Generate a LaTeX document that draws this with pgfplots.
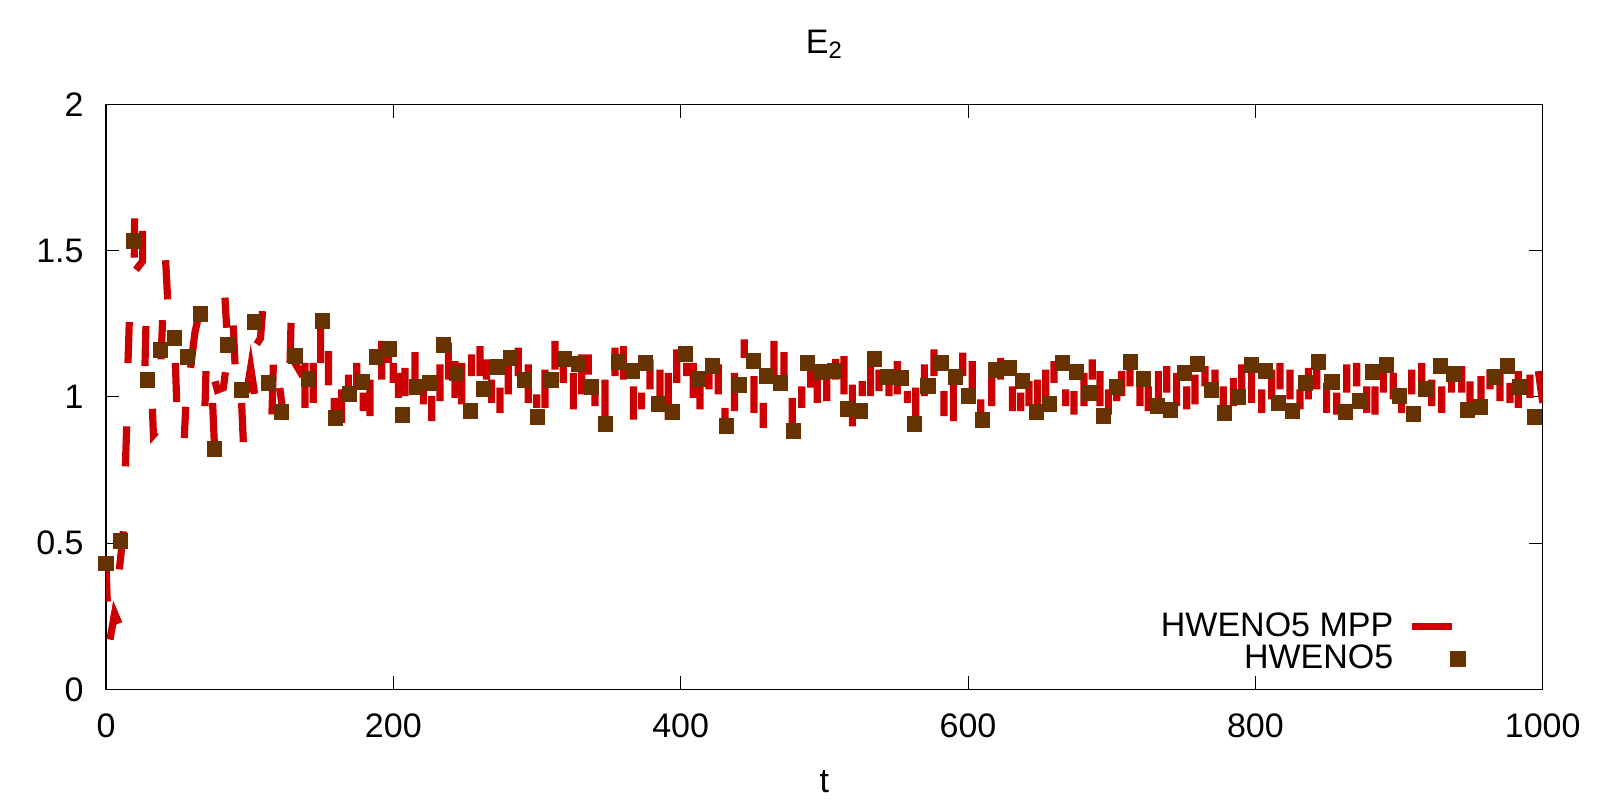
\documentclass[border=0pt]{standalone}
\usepackage{fontspec}
\setmainfont{Liberation Sans}
\usepackage{pgfplots}
\pgfplotsset{compat=1.18}
\definecolor{mpred}{RGB}{204,0,0}
\definecolor{mpbrown}{RGB}{102,51,0}
\begin{document}
\fontsize{17}{20}\selectfont
\begin{tikzpicture}
\begin{axis}[
  scale only axis, width=718.35pt, height=292.5pt,
  xmin=0, xmax=1000, ymin=0, ymax=2,
  xtick={0,200,400,600,800,1000}, ytick={0,0.5,1,1.5,2},
  tick align=inside, major tick length=6.65pt,
  every tick/.style={black, line width=0.5pt},
  axis line style={line width=0.6pt},
  /pgf/number format/assume math mode=true,
  /pgf/number format/1000 sep={},
  tick label style={font=\fontsize{17}{20}\selectfont},
  xticklabel style={anchor=base, yshift=-24pt, inner sep=0pt},
  yticklabel style={anchor=east, xshift=-11pt, inner sep=0pt},
  title={E\textsubscript{2}},
  title style={at={(0.5,1)}, anchor=base, yshift=19.3pt, inner sep=0pt, font=\fontsize{17}{20}\selectfont},
  xlabel={t},
  xlabel style={at={(0.5,0)}, anchor=base, yshift=-51.35pt, inner sep=0pt, font=\fontsize{17}{20}\selectfont},
  legend style={draw=none, fill=none, at={(0.9731,0.1316)}, anchor=north east,
    inner sep=0pt, outer sep=0pt, row sep=1.8pt, column sep=7.6pt,
    nodes={inner sep=0pt, font=\fontsize{17}{20}\selectfont}},
  legend cell align=right,
  legend plot pos=right,
]
\addplot[mpred, line width=3.6pt, line cap=butt, line join=miter, unbounded coords=jump,
  legend image code/.code={\draw[mpred, line width=3.6pt, line cap=butt] (0pt,0pt) -- (20pt,0pt); \path[draw=none] (0pt,0pt) (46pt,0pt);}]
coordinates {
(0,0.43)(0.9,0.30)(0.9,nan)
(2.8,0.17)(6.0,0.26)(9.0,0.225)(9,nan)
(9.3,0.41)(12.1,0.54)(12.1,nan)
(13.5,0.762)(14.4,0.899)(14.4,nan)
(15.3,1.116)(16.2,1.256)(16.2,nan)
(19.7,1.476)(19.95,1.61)(19.95,nan)
(20.9,1.434)(25.5,1.464)(25.5,1.567)(25.5,nan)
(27.1,1.105)(27.8,1.242)(27.8,nan)
(32.3,0.959)(33.0,0.870)(34.8,0.880)(34.8,nan)
(38.3,1.128)(39.4,1.262)(39.4,nan)
(41.5,1.467)(42.9,1.333)(42.9,nan)
(48.3,1.116)(49.2,0.982)(49.2,nan)
(54.5,0.859)(55.5,0.966)(55.5,nan)
(58.9,1.099)(61.9,1.22)(65.0,1.288)(65,nan)
(69.6,1.088)(68.9,0.968)(68.9,nan)
(74.2,0.979)(75.4,0.842)(75.4,nan)
(75.9,1.053)(77.5,1.023)(81.7,1.031)(83.1,1.084)(83.1,nan)
(82.8,1.339)(84.0,1.236)(84,nan)
(88.6,1.244)(89.8,1.111)(89.8,nan)
(94.4,0.979)(95.6,0.845)(95.6,nan)
(97.9,1.014)(100.7,1.10)(103.5,1.01)(103.5,nan)
(104.9,1.18)(107.5,1.20)(109.0,1.293)(109,nan)
(116.5,1.11)(115.5,0.94)(115.5,nan)
(121.0,1.03)(123.0,0.95)(123,nan)
(128.8,1.253)(128.1,1.116)(128.1,nan)
(131.0,1.12)(137.0,1.07)(137,nan)
(138.5,1.116)(138.5,0.962)(138.5,nan)
(144.3,1.116)(144.3,0.979)(144.3,nan)
(149.4,1.242)(149.4,1.116)(149.4,nan)
(154.8,1.156)(154.8,1.039)(154.8,nan)
(158.9,0.996)(158.9,0.911)(158.9,nan)
(164.0,1.025)(164.0,0.911)(164,nan)
(168.7,1.076)(168.7,1.002)(168.7,nan)
(174.5,1.116)(174.5,1.025)(174.5,nan)
(179.1,1.014)(179.1,0.951)(179.1,nan)
(183.8,1.059)(183.8,0.934)(183.8,nan)
(191.9,1.191)(191.9,1.059)(191.9,nan)
(196.5,1.185)(196.5,1.116)(196.5,nan)
(200.0,1.116)(200.0,1.048)(200,nan)
(203.5,1.082)(203.5,0.996)(203.5,nan)
(208.1,1.099)(208.1,1.002)(208.1,nan)
(215.1,1.153)(215.1,1.014)(215.1,nan)
(220.9,1.025)(220.9,0.974)(220.9,nan)
(226.7,1.002)(226.7,0.917)(226.7,nan)
(232.5,1.111)(232.5,0.985)(232.5,nan)
(238.3,1.185)(238.3,1.059)(238.3,nan)
(242.9,1.122)(242.9,0.996)(242.9,nan)
(247.6,1.116)(247.6,0.974)(247.6,nan)
(254.5,1.145)(254.5,1.071)(254.5,nan)
(260.3,1.173)(260.3,1.071)(260.3,nan)
(264.9,1.128)(264.9,1.059)(264.9,nan)
(268.4,1.059)(268.4,0.979)(268.4,nan)
(274.2,1.031)(274.2,0.945)(274.2,nan)
(280.0,1.116)(280.0,1.008)(280,nan)
(287.0,1.168)(287.0,1.071)(287,nan)
(293.9,1.111)(293.9,0.979)(293.9,nan)
(299.8,1.008)(299.8,0.962)(299.8,nan)
(305.6,1.093)(305.6,0.962)(305.6,nan)
(312.5,1.191)(312.5,1.093)(312.5,nan)
(318.3,1.151)(318.3,1.048)(318.3,nan)
(325.3,1.082)(325.3,0.957)(325.3,nan)
(331.1,1.145)(331.1,1.008)(331.1,nan)
(335.7,1.145)(335.7,1.076)(335.7,nan)
(340.4,1.059)(340.4,0.968)(340.4,nan)
(347.3,1.059)(347.3,0.905)(347.3,nan)
(354.3,1.168)(354.3,1.071)(354.3,nan)
(360.1,1.173)(360.1,1.059)(360.1,nan)
(367.1,1.036)(367.1,0.922)(367.1,nan)
(372.8,1.014)(372.8,0.957)(372.8,nan)
(378.6,1.128)(378.6,1.025)(378.6,nan)
(385.6,1.093)(385.6,0.979)(385.6,nan)
(391.4,1.082)(391.4,0.922)(391.4,nan)
(397.2,1.162)(397.2,1.048)(397.2,nan)
(404.2,1.116)(404.2,1.071)(404.2,nan)
(408.8,1.116)(408.8,0.996)(408.8,nan)
(413.5,1.059)(413.5,0.957)(413.5,nan)
(419.7,1.133)(419.7,1.025)(419.7,nan)
(426.2,1.111)(426.2,1.008)(426.2,nan)
(430.9,0.962)(430.9,0.899)(430.9,nan)
(437.4,1.082)(437.4,0.951)(437.4,nan)
(444.3,1.196)(444.3,1.133)(444.3,nan)
(451.0,1.071)(451.0,0.945)(451,nan)
(457.5,0.979)(457.5,0.894)(457.5,nan)
(465.0,1.191)(465.0,1.071)(465,nan)
(471.9,1.153)(471.9,1.036)(471.9,nan)
(477.7,0.996)(477.7,0.865)(477.7,nan)
(484.2,1.036)(484.2,0.962)(484.2,nan)
(490.5,1.141)(490.5,1.031)(490.5,nan)
(495.1,1.105)(495.1,0.979)(495.1,nan)
(501.6,1.071)(501.6,0.985)(501.6,nan)
(507.9,1.130)(507.9,1.059)(507.9,nan)
(513.7,1.139)(513.7,1.008)(513.7,nan)
(519.5,1.042)(519.5,0.899)(519.5,nan)
(526.4,1.054)(526.4,1.002)(526.4,nan)
(532.2,1.111)(532.2,1.002)(532.2,nan)
(538.0,1.093)(538.0,1.019)(538,nan)
(545.0,1.059)(545.0,1.002)(545,nan)
(550.8,1.122)(550.8,1.008)(550.8,nan)
(557.8,1.019)(557.8,0.979)(557.8,nan)
(563.6,1.031)(563.6,0.928)(563.6,nan)
(569.6,1.111)(569.6,1.002)(569.6,nan)
(576.3,1.162)(576.3,1.071)(576.3,nan)
(583.3,1.019)(583.3,0.934)(583.3,nan)
(589.8,1.059)(589.8,0.917)(589.8,nan)
(596.3,1.151)(596.3,1.071)(596.3,nan)
(603.0,1.122)(603.0,1.008)(603,nan)
(608.8,0.991)(608.8,0.945)(608.8,nan)
(616.5,1.099)(616.5,0.968)(616.5,nan)
(622.7,1.133)(622.7,1.059)(622.7,nan)
(630.9,1.036)(630.9,0.951)(630.9,nan)
(636.7,1.014)(636.7,0.951)(636.7,nan)
(642.4,1.054)(642.4,0.968)(642.4,nan)
(648.3,1.059)(648.3,0.974)(648.3,nan)
(654.1,1.093)(654.1,1.002)(654.1,nan)
(659.9,1.122)(659.9,1.048)(659.9,nan)
(668.0,1.025)(668.0,0.968)(668,nan)
(673.8,1.019)(673.8,0.939)(673.8,nan)
(680.7,1.082)(680.7,0.968)(680.7,nan)
(686.5,1.128)(686.5,1.059)(686.5,nan)
(691.9,1.088)(691.9,0.968)(691.9,nan)
(697.7,1.025)(697.7,0.939)(697.7,nan)
(703.5,1.036)(703.5,0.985)(703.5,nan)
(707.0,1.088)(707.0,1.002)(707,nan)
(712.7,1.099)(712.7,1.036)(712.7,nan)
(719.7,1.059)(719.7,0.968)(719.7,nan)
(725.5,1.036)(725.5,0.951)(725.5,nan)
(732.5,1.088)(732.5,0.991)(732.5,nan)
(738.3,1.105)(738.3,1.014)(738.3,nan)
(745.2,1.082)(745.2,0.968)(745.2,nan)
(752.2,1.036)(752.2,0.957)(752.2,nan)
(758.0,1.076)(758.0,0.974)(758,nan)
(764.9,1.105)(764.9,1.036)(764.9,nan)
(771.9,1.093)(771.9,1.002)(771.9,nan)
(777.7,1.036)(777.7,0.945)(777.7,nan)
(784.7,1.065)(784.7,0.968)(784.7,nan)
(790.5,1.111)(790.5,1.025)(790.5,nan)
(797.4,1.111)(797.4,0.979)(797.4,nan)
(804.4,1.025)(804.4,0.945)(804.4,nan)
(811.4,1.093)(811.4,0.991)(811.4,nan)
(817.2,1.116)(817.2,1.025)(817.2,nan)
(824.1,1.093)(824.1,0.991)(824.1,nan)
(831.1,1.025)(831.1,0.957)(831.1,nan)
(836.9,1.099)(836.9,0.991)(836.9,nan)
(842.7,1.093)(842.7,1.025)(842.7,nan)
(849.6,1.048)(849.6,0.945)(849.6,nan)
(856.6,1.014)(856.6,0.939)(856.6,nan)
(863.6,1.111)(863.6,1.014)(863.6,nan)
(870.5,1.116)(870.5,1.036)(870.5,nan)
(877.5,1.036)(877.5,0.945)(877.5,nan)
(883.3,1.036)(883.3,0.939)(883.3,nan)
(889.1,1.099)(889.1,1.014)(889.1,nan)
(896.0,1.082)(896.0,0.991)(896,nan)
(901.8,1.014)(901.8,0.945)(901.8,nan)
(908.8,1.093)(908.8,1.008)(908.8,nan)
(915.8,1.116)(915.8,1.036)(915.8,nan)
(922.7,1.059)(922.7,0.968)(922.7,nan)
(929.7,1.036)(929.7,0.945)(929.7,nan)
(936.6,1.088)(936.6,1.014)(936.6,nan)
(943.6,1.105)(943.6,1.014)(943.6,nan)
(949.4,1.053)(949.4,0.968)(949.4,nan)
(957.0,1.071)(957.0,0.985)(957,nan)
(963.3,1.093)(963.3,1.025)(963.3,nan)
(970.3,1.094)(970.3,0.985)(970.3,nan)
(977.2,1.048)(977.2,0.979)(977.2,nan)
(983.0,1.088)(983.0,0.962)(983,nan)
(991.1,1.076)(991.1,0.996)(991.1,nan)
(997.0,1.088)(1000.0,0.979)
};
\addlegendentry{HWENO5 MPP}
\addplot[only marks, mark=square*, mark size=3.67pt, color=mpbrown, mark options={solid, fill=mpbrown, draw=none},
  legend image code/.code={\path[draw=none] (0pt,0pt) (46pt,0pt); \draw[draw=none, only marks, mark=square*, mark size=3.67pt, mark options={fill=mpbrown, draw=none}] plot coordinates {(23pt,0pt)};}]
coordinates {
(0,0.431)(10,0.508)(19,1.533)(28.8,1.058)(37.8,1.161)(47.6,1.202)(56.6,1.137)(65.7,1.284)
(75.4,0.822)(84.5,1.178)(94.2,1.024)(103.3,1.257)(113,1.048)(122,0.949)(131.8,1.140)(140.8,1.062)
(150.6,1.260)(159.6,0.928)(169.4,1.010)(178.4,1.051)(188.1,1.137)(197.2,1.164)(206.2,0.938)(216,1.034)
(225,1.048)(234.8,1.178)(243.8,1.082)(253.6,0.952)(262.6,1.027)(272.4,1.103)(281.4,1.134)(291.2,1.058)
(300.2,0.932)(310,1.058)(319,1.130)(328.7,1.113)(337.8,1.034)(347.5,0.908)(356.6,1.120)(366.3,1.089)
(375.4,1.116)(384.4,0.976)(394.2,0.949)(403.2,1.147)(412.3,1.062)(422,1.106)(431.8,0.901)(440.8,1.041)
(450.6,1.123)(459.6,1.072)(469.3,1.048)(478.4,0.884)(488.1,1.116)(497.2,1.086)(506.9,1.089)(516,0.959)
(525,0.952)(534.8,1.130)(543.8,1.068)(553.6,1.065)(562.6,0.908)(572.3,1.038)(581.4,1.116)(591.1,1.068)
(600.2,1.003)(609.9,0.921)(619,1.092)(628.7,1.099)(637.8,1.055)(647.5,0.949)(656.6,0.976)(665.6,1.116)
(675.4,1.086)(684.4,1.014)(694.2,0.935)(703.2,1.034)(713,1.120)(722,1.062)(731.7,0.969)(740.8,0.955)
(750.5,1.082)(759.6,1.113)(769.3,1.024)(778.4,0.945)(788.1,1.000)(797.2,1.110)(806.9,1.089)(816,0.979)
(825.7,0.952)(834.8,1.048)(843.8,1.120)(853.5,1.051)(862.6,0.949)(872.4,0.986)(881.4,1.086)(891.2,1.110)
(900.2,1.003)(909.9,0.942)(918.9,1.027)(928.7,1.106)(937.8,1.079)(947.5,0.955)(956.6,0.966)(966.3,1.068)
(975.4,1.106)(984.2,1.034)(994.2,0.932)
};
\addlegendentry{HWENO5}
\end{axis}
\pgfresetboundingbox
\path[use as bounding box] (-53pt,-55.35pt) rectangle (747pt,344.65pt);
\end{tikzpicture}
\end{document}
